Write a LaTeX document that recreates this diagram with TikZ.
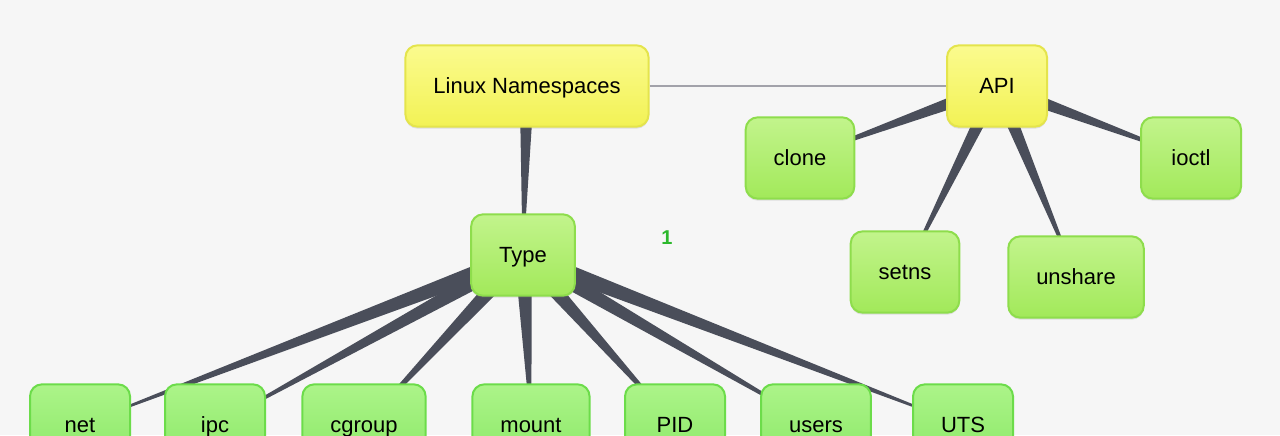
\documentclass[tikz,border=0pt]{standalone}
\usepackage{fontspec}
\setmainfont{Liberation Sans}
\usetikzlibrary{calc,backgrounds,shadows}

\definecolor{paper}{HTML}{F6F6F6}
\definecolor{ylwtop}{HTML}{FBFB8E}
\definecolor{ylwbot}{HTML}{F2F255}
\definecolor{ylwedge}{HTML}{E4E44C}
\definecolor{lmtop}{HTML}{C2F48C}
\definecolor{lmbot}{HTML}{A2E95A}
\definecolor{lmedge}{HTML}{8EDD4C}
\definecolor{grtop}{HTML}{ACF489}
\definecolor{grbot}{HTML}{8AE866}
\definecolor{gredge}{HTML}{6CDC4A}
\definecolor{wirecol}{HTML}{4A4E5A}
\definecolor{linkcol}{HTML}{A2A2AA}
\definecolor{markcol}{HTML}{2CB82C}

\tikzset{
  topic/.style={draw=ylwedge, line width=1.5pt, rounded corners=9pt,
    top color=ylwtop, bottom color=ylwbot,
    minimum width=75pt, minimum height=61pt, inner xsep=21pt,
    text height=11.9pt, text depth=0pt,
    font=\fontsize{16.5}{19}\selectfont,
    drop shadow={shadow xshift=0pt, shadow yshift=-1.5pt, opacity=0.2}},
  sub/.style={topic, draw=lmedge, top color=lmtop, bottom color=lmbot},
  leaf/.style={topic, draw=gredge, top color=grtop, bottom color=grbot},
  wire/.style={fill=wirecol},
  link/.style={draw=linkcol, line width=1.6pt},
}

% tapered connector: parent, child, half width at parent
\newcommand\taper[3]{%
  \fill[wire] ($(#1.center)!#3!90:(#2.center)$) -- ($(#1.center)!#3!-90:(#2.center)$)
    -- ($(#2.center)!0.3pt!90:(#1.center)$) -- ($(#2.center)!0.3pt!-90:(#1.center)$) -- cycle;}

\begin{document}
\begin{tikzpicture}[x=0.75pt,y=-0.75pt]
  \clip (0,0) rectangle (1280,435);
  \useasboundingbox (0,0) rectangle (1280,435);

  % top level
  \node[topic] (ns)  at (527,86)  {Linux Namespaces};
  \node[topic] (api) at (997,86)  {API};

  % api side
  \node[sub] (clone)   at (800,158)  {clone};
  \node[sub] (ioctl)   at (1191,158) {ioctl};
  \node[sub] (setns)   at (905,272)  {setns};
  \node[sub] (unshare) at (1076,277) {unshare};

  % types
  \node[sub] (type) at (523,255) {Type};
  \node[leaf] (net)    at (80,425)  {net};
  \node[leaf] (ipc)    at (215,425) {ipc};
  \node[leaf] (cgroup) at (364,425) {cgroup};
  \node[leaf] (mount)  at (531,425) {mount};
  \node[leaf] (pid)    at (675,425) {PID};
  \node[leaf] (users)  at (816,425) {users};
  \node[leaf] (uts)    at (963,425) {UTS};

  \node[text=markcol, font=\fontsize{15}{17}\bfseries\selectfont] (mark) at (667,238) {1};

  \begin{scope}[on background layer]
    \fill[paper] (0,0) rectangle (1280,435);
    \draw[link] (ns) -- (api);
    \taper{ns}{type}{5.5pt}
    \foreach \c in {clone,ioctl,setns,unshare}{
      \taper{api}{\c}{5.5pt}
    }
    \foreach \c in {net,ipc,cgroup,mount,pid,users,uts}{
      \taper{type}{\c}{6.5pt}
    }
  \end{scope}
\end{tikzpicture}
\end{document}
